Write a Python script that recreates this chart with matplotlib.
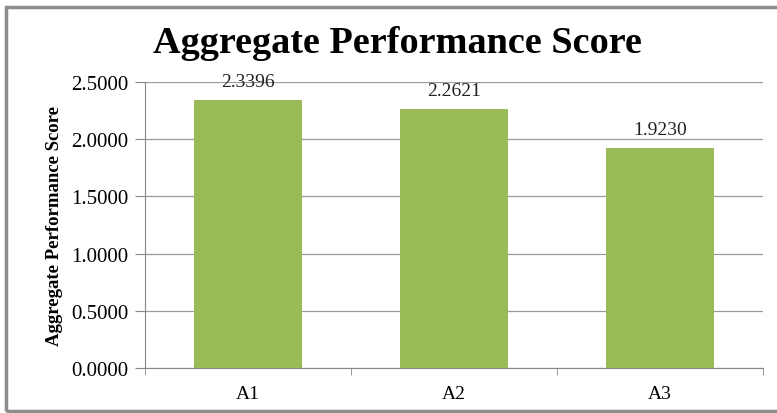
import matplotlib.pyplot as plt
from matplotlib.patches import Rectangle
import numpy as np

categorias = ['A1', 'A2', 'A3']
puntajes = [2.3396, 2.2621, 1.9230]
marcas_y = [0.0, 0.5, 1.0, 1.5, 2.0, 2.5]

plt.rcParams['font.family'] = ['Liberation Serif', 'DejaVu Serif']

fig = plt.figure(figsize=(7.77, 4.14), dpi=100)
ax = fig.add_axes([0.1866, 0.1087, 0.7954, 0.6908])

# Marco gris (el borde derecho queda fuera de la imagen)
fig.patches.append(Rectangle((6 / 777, 2.5 / 414), 800 / 777, 404 / 414,
                             transform=fig.transFigure, fill=False,
                             edgecolor='#8c8c8c', linewidth=2.5))

x = np.arange(len(categorias))
ax.bar(x, puntajes, width=0.525, color='#9BBB59', zorder=3)

for xi, v in zip(x, puntajes):
    ax.text(xi, v + 0.165, f'{v:.4f}', ha='center', va='center',
            fontsize=14, color='#222222', zorder=4)

ax.set_xlim(-0.5, len(categorias) - 0.5)
ax.set_ylim(0, 2.5)
ax.set_yticks(marcas_y)
ax.set_yticklabels([f'{m:.4f}' for m in marcas_y], fontsize=15)
ax.set_xticks(x)
ax.set_xticklabels(categorias, fontsize=14)
ax.set_xticks(np.arange(-0.5, len(categorias), 1), minor=True)
ax.tick_params(axis='x', which='major', length=0, pad=12)
ax.tick_params(axis='x', which='minor', length=5, color='#888888')
ax.tick_params(axis='y', length=7, color='#888888', pad=5)

ax.grid(axis='y', color='#9a9a9a', linewidth=0.9, zorder=0)
for lado in ['top', 'right']:
    ax.spines[lado].set_visible(False)
ax.spines['left'].set_color('#888888')
ax.spines['bottom'].set_color('#888888')

ax.set_ylabel('Aggregate Performance Score', fontsize=13.5,
              fontweight='bold', labelpad=6)

fig.text(0.511, 0.872, 'Aggregate Performance Score', ha='center',
         va='baseline', fontsize=27.5, fontweight='bold')

fig.savefig('out.png', dpi=100)
